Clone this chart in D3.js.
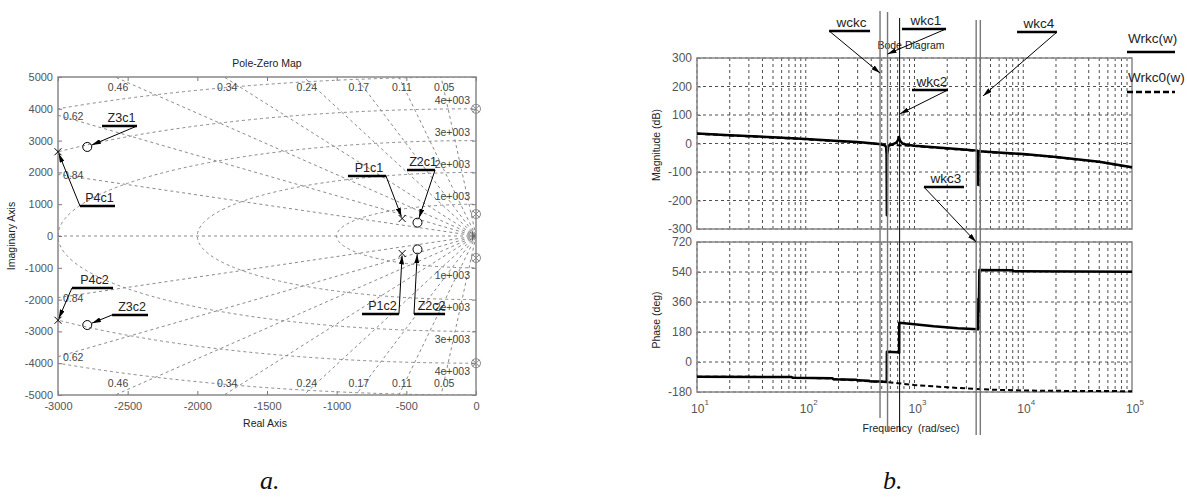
<!DOCTYPE html>
<html>
<head>
<meta charset="utf-8">
<script src="https://cdnjs.cloudflare.com/ajax/libs/d3/7.8.5/d3.min.js"></script>
<style>
  body { margin: 0; background: #fff; }
  svg { display: block; font-family: "Liberation Sans", Arial, sans-serif; }
</style>
</head>
<body>
<svg width="1187" height="498"></svg>
<script>
/* ---------- a. pole-zero map data ---------- */
var pzXTicks = [-3000, -2500, -2000, -1500, -1000, -500, 0];
var pzYTicks = [5000, 4000, 3000, 2000, 1000, 0, -1000, -2000, -3000, -4000, -5000];
var dampings = [0.05, 0.11, 0.17, 0.24, 0.34, 0.46, 0.62, 0.84];
var wnRings = [1000, 2000, 3000, 4000, 5000];
var wnLabels = ["1e+003", "2e+003", "3e+003", "4e+003"];

var poleNames = ["P4c1", "P4c2", "P1c1", "P1c2"];
var poleRe = [-3000, -3000, -530, -530];
var poleIm = [2650, -2650, 550, -550];
var zeroNames = ["Z3c1", "Z3c2", "Z2c1", "Z2c2"];
var zeroRe = [-2790, -2790, -420, -420];
var zeroIm = [2800, -2800, 420, -420];
// pole/zero pairs that sit on the imaginary axis
var axisPairIm = [4000, 690, -690, -4000];

/* ---------- b. bode data ---------- */
var magTicks = [300, 200, 100, 0, -100, -200, -300];
var phTicks = [720, 540, 360, 180, 0, -180];
var decades = [10, 100, 1000, 10000, 100000];

var magFreqs = [10, 20, 50, 100, 200, 300, 400, 470, 530, 548, 554, 557, 560, 575, 620, 680, 705, 720, 735, 780, 850,
  1000, 2000, 3000, 3800, 3840, 3860, 3880, 3950, 5000, 10000, 20000, 50000, 100000];
var magWrkc = [35, 29, 22, 16, 9, 5, 1, -2, -6, -12, -40, -252, -40, -8, -4, 3, 12, 23, 10, -1, -4,
  -8, -17, -22, -25, -32, -146, -32, -27, -30, -37, -47, -64, -83];
var mag0Freqs = [10, 100, 200, 300, 500, 700, 1000, 2000, 3000, 5000, 10000, 20000, 50000, 100000];
var magWrkc0 = [34, 15, 8, 4, -3, -6, -9, -18, -23, -31, -38, -48, -65, -84];

var phFreqs = [10, 74, 76, 176, 180, 290, 300, 380, 390, 480, 556, 557, 700, 722, 724, 900, 1500, 2500,
  3800, 3850, 3870, 3900, 3950, 8000, 8100, 100000];
var phWrkc = [-88, -90, -95, -98, -103, -106, -110, -112, -116, -117, -120, 62, 58, 56, 236, 230, 214, 203,
  197, 196, 380, 300, 552, 550, 545, 542];
var ph0Freqs = [10, 74, 76, 176, 180, 300, 390, 556, 700, 1000, 2000, 3700, 5000, 10000, 30000, 100000];
var phWrkc0 = [-88, -90, -95, -98, -103, -110, -116, -120, -127, -138, -152, -162, -166, -171, -174, -175];

// marker frequencies (vertical lines)
var markFreqs = [482, 565, 730, 3690, 4030];

var svg = d3.select("svg");
var defs = svg.append("defs");
defs.append("marker")
  .attr("id", "arrow")
  .attr("viewBox", "0 0 10 10")
  .attr("refX", 10).attr("refY", 5)
  .attr("markerWidth", 9).attr("markerHeight", 5)
  .attr("markerUnits", "userSpaceOnUse")
  .attr("preserveAspectRatio", "none")
  .attr("orient", "auto")
  .append("path").attr("d", "M0,0L10,5L0,10z").attr("fill", "#000");

var plain = (d) => String(d);

var callout = (x1, x2, y, useLeft, tx, ty, label, fontSize, shorten) => {
  var g = svg.append("g");
  g.append("text")
    .attr("x", (x1 + x2) / 2 + 2).attr("y", y - 4)
    .attr("text-anchor", "middle")
    .attr("font-size", fontSize).attr("fill", "#222")
    .text(label);
  g.append("line")
    .attr("x1", x1).attr("x2", x2).attr("y1", y).attr("y2", y)
    .attr("stroke", "#000").attr("stroke-width", 2.5);
  var sx = useLeft ? x1 : x2;
  var dx = tx - sx, dy = ty - y;
  var len = Math.sqrt(dx * dx + dy * dy);
  g.append("line")
    .attr("x1", sx).attr("y1", y)
    .attr("x2", tx - dx / len * shorten).attr("y2", ty - dy / len * shorten)
    .attr("stroke", "#000").attr("stroke-width", 1)
    .attr("marker-end", "url(#arrow)");
};

/* ======================= a. Pole-Zero Map ======================= */
var xPZ = d3.scaleLinear().domain([-3000, 0]).range([58, 476]);
var yPZ = d3.scaleLinear().domain([-5000, 5000]).range([395, 77]);

defs.append("clipPath").attr("id", "clipPZ").append("rect")
  .attr("x", xPZ(-3000)).attr("y", yPZ(5000))
  .attr("width", xPZ(0) - xPZ(-3000)).attr("height", yPZ(-5000) - yPZ(5000));

var gridPZ = svg.append("g").attr("clip-path", "url(#clipPZ)")
  .attr("fill", "none").attr("stroke", "#8a8a8a")
  .attr("stroke-width", 1).attr("stroke-dasharray", "3,3");

wnRings.forEach((r) => {
  gridPZ.append("ellipse")
    .attr("cx", xPZ(0)).attr("cy", yPZ(0))
    .attr("rx", xPZ(0) - xPZ(-r)).attr("ry", yPZ(0) - yPZ(r));
});
dampings.forEach((z) => {
  [1, -1].forEach((s) => {
    gridPZ.append("line")
      .attr("x1", xPZ(0)).attr("y1", yPZ(0))
      .attr("x2", xPZ(-z * 20000)).attr("y2", yPZ(s * Math.sqrt(1 - z * z) * 20000));
  });
});
gridPZ.append("line")
  .attr("x1", xPZ(-3000)).attr("x2", xPZ(0))
  .attr("y1", yPZ(0)).attr("y2", yPZ(0));

// damping labels
var gLab = svg.append("g").attr("font-size", 10.5).attr("fill", "#444");
dampings.forEach((z) => {
  var k = Math.sqrt(1 - z * z) / z;
  [1, -1].forEach((s) => {
    if (5000 / k <= 3000) {
      gLab.append("text")
        .attr("x", xPZ(-5000 / k) + 3)
        .attr("y", s > 0 ? yPZ(5000) + 10 : yPZ(-5000) - 12)
        .attr("dy", "0.35em").attr("text-anchor", "middle")
        .text(z);
    } else {
      gLab.append("text")
        .attr("x", xPZ(-3000) + 5)
        .attr("y", yPZ(s * 3000 * k) + 1)
        .attr("dy", "0.35em")
        .text(z);
    }
  });
});
// natural frequency labels
wnLabels.forEach((t, i) => {
  var r = wnRings[i];
  [1, -1].forEach((s) => {
    gLab.append("text")
      .attr("x", xPZ(0) - 6)
      .attr("y", yPZ(s * r) - s * 8)
      .attr("dy", "0.35em").attr("text-anchor", "end")
      .text(t);
  });
});

// axes
var tickStyle = (g, size) => {
  g.select(".domain").remove();
  g.selectAll(".tick line").attr("stroke", "#777");
  g.selectAll(".tick text").attr("fill", "#555").attr("font-size", size)
    .attr("font-family", '"Liberation Sans", Arial, sans-serif');
};
svg.append("g")
  .attr("transform", "translate(" + xPZ(-3000) + ",0)")
  .call(d3.axisLeft(yPZ).tickValues(pzYTicks).tickFormat(plain)
    .tickSizeInner(-4).tickSizeOuter(0).tickPadding(5))
  .call((g) => tickStyle(g, 11));
svg.append("g")
  .attr("transform", "translate(" + xPZ(0) + ",0)")
  .call(d3.axisRight(yPZ).tickValues(pzYTicks).tickSizeInner(-4).tickSizeOuter(0).tickFormat(""))
  .call((g) => tickStyle(g, 11));
svg.append("g")
  .attr("transform", "translate(0," + yPZ(-5000) + ")")
  .call(d3.axisBottom(xPZ).tickValues(pzXTicks).tickFormat(plain)
    .tickSizeInner(-4).tickSizeOuter(0).tickPadding(7))
  .call((g) => tickStyle(g, 11));
svg.append("g")
  .attr("transform", "translate(0," + yPZ(5000) + ")")
  .call(d3.axisTop(xPZ).tickValues(pzXTicks).tickSizeInner(-4).tickSizeOuter(0).tickFormat(""))
  .call((g) => tickStyle(g, 11));

svg.append("rect")
  .attr("x", xPZ(-3000)).attr("y", yPZ(5000))
  .attr("width", xPZ(0) - xPZ(-3000)).attr("height", yPZ(-5000) - yPZ(5000))
  .attr("fill", "none").attr("stroke", "#888").attr("stroke-width", 1.5);

svg.append("text").attr("x", 267).attr("y", 67).attr("text-anchor", "middle")
  .attr("font-size", 10.5).attr("fill", "#222").text("Pole-Zero Map");
svg.append("text").attr("x", 265).attr("y", 427).attr("text-anchor", "middle")
  .attr("font-size", 10.5).attr("fill", "#222").text("Real Axis");
svg.append("text").attr("transform", "translate(15," + yPZ(0) + ") rotate(-90)")
  .attr("text-anchor", "middle").attr("font-size", 10.5).attr("fill", "#222").text("Imaginary Axis");

// poles and zeros
var drawX = (cx, cy, h, col) => {
  svg.append("path")
    .attr("d", "M" + (cx - h) + "," + (cy - h) + "L" + (cx + h) + "," + (cy + h) +
      "M" + (cx - h) + "," + (cy + h) + "L" + (cx + h) + "," + (cy - h))
    .attr("stroke", col).attr("stroke-width", 1).attr("fill", "none");
};
var drawO = (cx, cy, r, col) => {
  svg.append("circle").attr("cx", cx).attr("cy", cy).attr("r", r)
    .attr("fill", "none").attr("stroke", col).attr("stroke-width", 1);
};
poleRe.forEach((re, i) => drawX(xPZ(re), yPZ(poleIm[i]), 3.5, "#000"));
zeroRe.forEach((re, i) => drawO(xPZ(re), yPZ(zeroIm[i]), 4.5, "#000"));
axisPairIm.forEach((im) => {
  drawO(xPZ(0), yPZ(im), 4.5, "#888");
  drawX(xPZ(0), yPZ(im), 3.5, "#888");
});
// near-origin cluster
drawX(xPZ(-25), yPZ(60), 2.5, "#666");
drawX(xPZ(-25), yPZ(-60), 2.5, "#666");
svg.append("line").attr("x1", xPZ(-25)).attr("x2", xPZ(-25)).attr("y1", yPZ(150)).attr("y2", yPZ(-150))
  .attr("stroke", "#666");

// callouts, positions in data units
var pzCallLabels = ["P4c1", "Z3c1", "P1c1", "Z2c1", "P1c2", "Z2c2", "P4c2", "Z3c2"];
var pzCallX1 = [-2842, -2684, -919, -495, -818, -445, -2900, -2612];
var pzCallX2 = [-2591, -2433, -646, -294, -553, -222, -2605, -2354];
var pzCallY = [943, 3459, 1887, 2075, -2453, -2453, -1635, -2484];
var pzCallLeft = [true, false, false, false, false, true, true, true];
pzCallLabels.forEach((lab, i) => {
  var pi = poleNames.indexOf(lab), zi = zeroNames.indexOf(lab);
  var tx = pi >= 0 ? xPZ(poleRe[pi]) : xPZ(zeroRe[zi]);
  var ty = pi >= 0 ? yPZ(poleIm[pi]) : yPZ(zeroIm[zi]);
  callout(xPZ(pzCallX1[i]), xPZ(pzCallX2[i]), yPZ(pzCallY[i]), pzCallLeft[i], tx, ty, lab, 12.5,
    pi >= 0 ? 2 : 5);
});

svg.append("text").attr("x", 260).attr("y", 489)
  .attr("font-family", '"Liberation Serif", "Times New Roman", serif')
  .attr("font-style", "italic").attr("font-size", 26).attr("fill", "#111").text("a.");

/* ======================= b. Bode Diagram ======================= */
var xB = d3.scaleLog().domain([10, 1e5]).range([697, 1132]);
var yMag = d3.scaleLinear().domain([-300, 300]).range([229, 58]);
var yPh = d3.scaleLinear().domain([-180, 720]).range([392, 242]);

var minorFreqs = [];
decades.slice(0, 4).forEach((d) => {
  for (var m = 1; m <= 9; m++) minorFreqs.push(d * m);
});

var panel = (yScale, ticks, label, labelY) => {
  var y0 = yScale.range()[0], y1 = yScale.range()[1];
  var grid = svg.append("g").attr("stroke", "#222").attr("stroke-width", 0.8)
    .attr("stroke-dasharray", "3,3");
  minorFreqs.forEach((f) => {
    grid.append("line").attr("x1", xB(f)).attr("x2", xB(f)).attr("y1", y1).attr("y2", y0);
  });
  ticks.forEach((t) => {
    grid.append("line").attr("x1", xB(10)).attr("x2", xB(1e5)).attr("y1", yScale(t)).attr("y2", yScale(t));
  });
  svg.append("g")
    .attr("transform", "translate(" + xB(10) + ",0)")
    .call(d3.axisLeft(yScale).tickValues(ticks).tickFormat(plain)
      .tickSizeInner(-4).tickSizeOuter(0).tickPadding(5))
    .call((g) => tickStyle(g, 12));
  svg.append("rect")
    .attr("x", xB(10)).attr("y", y1)
    .attr("width", xB(1e5) - xB(10)).attr("height", y0 - y1)
    .attr("fill", "none").attr("stroke", "#888").attr("stroke-width", 1.5);
  svg.append("text").attr("transform", "translate(660," + labelY + ") rotate(-90)")
    .attr("text-anchor", "middle").attr("font-size", 10.5).attr("fill", "#222").text(label);
};
panel(yMag, magTicks, "Magnitude (dB)", 145);
panel(yPh, phTicks, "Phase (deg)", 320);

// decade labels
decades.forEach((d) => {
  var t = svg.append("text").attr("x", xB(d) + 3).attr("y", 413)
    .attr("text-anchor", "middle").attr("font-size", 12).attr("fill", "#555");
  t.append("tspan").text("10");
  t.append("tspan").attr("dy", -8).attr("font-size", 8).text(Math.round(Math.log10(d)));
});
svg.append("text").attr("x", 911).attr("y", 432).attr("text-anchor", "middle")
  .attr("font-size", 10.5).attr("fill", "#222").style("white-space", "pre")
  .text("Frequency  (rad/sec)");
svg.append("text").attr("x", 911).attr("y", 49).attr("text-anchor", "middle")
  .attr("font-size", 10.5).attr("fill", "#222").text("Bode Diagram");

// curves
var curve = (freqs, vals, yScale, dashed) => {
  var line = d3.line().x((d, i) => xB(freqs[i])).y((d) => yScale(d));
  svg.append("path").datum(vals)
    .attr("d", line)
    .attr("fill", "none").attr("stroke", "#000")
    .attr("stroke-width", dashed ? 2 : 2.5)
    .attr("stroke-dasharray", dashed ? "5,3" : null)
    .attr("stroke-linejoin", "round");
};
curve(mag0Freqs, magWrkc0, yMag, true);
curve(magFreqs, magWrkc, yMag, false);
curve(ph0Freqs, phWrkc0, yPh, true);
curve(phFreqs, phWrkc, yPh, false);

// vertical marker lines
var markTop = [11, 12, 18, 20, 20];
var markBottom = [418, 432, 432, 435, 435];
var markColor = ["#777", "#777", "#000", "#777", "#777"];
markFreqs.forEach((f, i) => {
  svg.append("line")
    .attr("x1", xB(f)).attr("x2", xB(f))
    .attr("y1", markTop[i]).attr("y2", markBottom[i])
    .attr("stroke", markColor[i]).attr("stroke-width", i == 2 ? 1 : 1.4);
});

// callouts, positions in frequency / dB units
var bCallLabels = ["wckc", "wkc1", "wkc2", "wkc4", "wkc3"];
var bCallF1 = [164, 767, 948, 8770, 1222];
var bCallF2 = [390, 1950, 2030, 20400, 2850];
var bCallDb = [395, 402, 188, 391, -153];
var bCallLeft = [true, false, false, false, true];
var bTargetF = [482, 565, 736, 4270, 3690];
var bTargetDb = [247, 314, 104, 167, -346];
bCallLabels.forEach((lab, i) => {
  callout(xB(bCallF1[i]), xB(bCallF2[i]), yMag(bCallDb[i]), bCallLeft[i],
    xB(bTargetF[i]), yMag(bTargetDb[i]), lab, 13.5, 0);
});

// legend
var legend = svg.append("g").attr("font-size", 13.5).attr("fill", "#222");
legend.append("text").attr("x", 1128).attr("y", 43).text("Wrkc(w)");
legend.append("line").attr("x1", 1127).attr("x2", 1175).attr("y1", 52).attr("y2", 52)
  .attr("stroke", "#000").attr("stroke-width", 2.5);
legend.append("text").attr("x", 1128).attr("y", 82).text("Wrkc0(w)");
legend.append("line").attr("x1", 1127).attr("x2", 1175).attr("y1", 92).attr("y2", 92)
  .attr("stroke", "#000").attr("stroke-width", 2.5).attr("stroke-dasharray", "6,3");

svg.append("text").attr("x", 883).attr("y", 489)
  .attr("font-family", '"Liberation Serif", "Times New Roman", serif')
  .attr("font-style", "italic").attr("font-size", 26).attr("fill", "#111").text("b.");
</script>
</body>
</html>
